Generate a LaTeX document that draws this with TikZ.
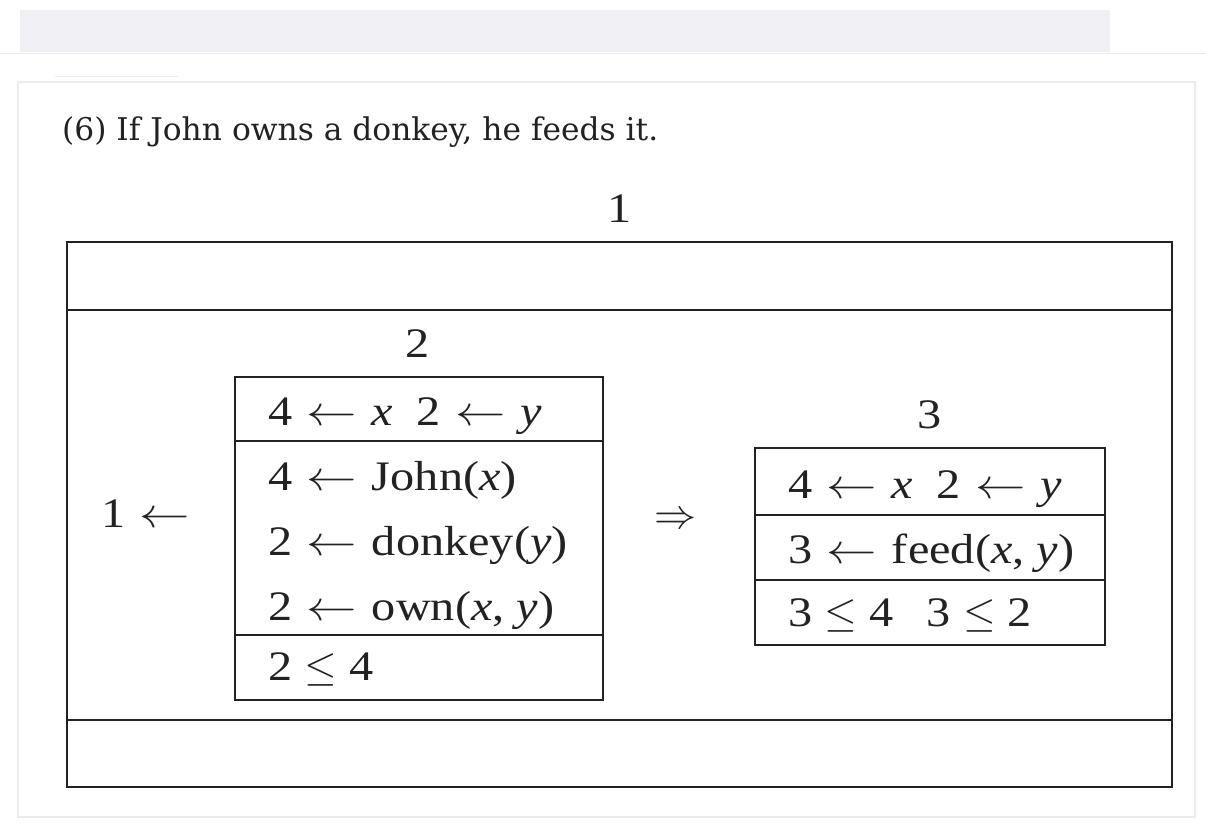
\RequirePackage{fix-cm}
\documentclass[tikz,border=0pt]{standalone}
\usepackage{graphicx}
\usepackage{fontspec}
\setmainfont{Liberation Serif}
\newfontfamily\titlefont{DejaVu Serif}
\newfontfamily\drsfont[FakeStretch=1.15]{Liberation Serif}
\usepackage{tikz}
\usetikzlibrary{positioning}

\definecolor{barfill}{HTML}{F0EFF4}
\definecolor{cardline}{HTML}{EBEBEB}
\definecolor{ink}{HTML}{222222}

% wide left arrow, as in the reference
\newcommand{\getsarrow}{\hspace{0.06em}\scalebox{1.2}[1]{\(\leftarrow\)}\hspace{0.06em}}

\begin{document}
\begin{tikzpicture}[x=1pt,y=-1pt,
  drs/.style={draw=ink,line width=2.2pt},
  cond/.style={anchor=base west,inner sep=0pt,text=ink,
    font=\drsfont\fontsize{42}{50}\selectfont},
  lbl/.style={anchor=base,inner sep=0pt,text=ink,
    font=\drsfont\fontsize{42}{50}\selectfont}]
  \useasboundingbox (0,0) rectangle (1206,834);
  % page bits round the figure
  \fill[barfill] (20,10) rectangle (1110,52);
  \draw[cardline] (0,53) -- (1206,53);
  \draw[cardline] (55,76) -- (178,76);
  \draw[cardline,line width=1.5pt] (18,82) rectangle (1195,817);
  % caption
  \node[anchor=base west,inner sep=0pt,text=ink,
    font=\titlefont\fontsize{31.3}{38}\selectfont] (title) at (62,141)
    {(6) If John owns a donkey, he feeds it.};
  % outer box 1
  \draw[drs] (67,242) rectangle (1172,787);
  \draw[drs] (67,310) -- (1172,310);
  \draw[drs] (67,720) -- (1172,720);
  \node[lbl] (L1) at (620,223) {1};
  \node[cond] (B1) at (101,527) {1 \getsarrow};
  % box 2
  \draw[drs] (235,377) rectangle (603,700);
  \draw[drs] (235,441) -- (603,441);
  \draw[drs] (235,635) -- (603,635);
  \node[lbl] (L2) at (418,357) {2};
  \node[cond] (U2) at (268,425) {4 \getsarrow{} \textit{x}\hspace{0.55em}2 \getsarrow{} \textit{y}};
  \node[cond] (C2a) at (268,490) {4 \getsarrow{} John(\textit{x})};
  \node[cond] (C2b) at (268,555) {2 \getsarrow{} donkey(\textit{y})};
  \node[cond] (C2c) at (268,620) {2 \getsarrow{} own(\textit{x}, \textit{y})};
  \node[cond] (O2) at (268,680) {2 \(\leq\) 4};
  % implication
  \node[lbl,font=\fontsize{42}{50}\selectfont] (IMP) at (675,528) {\(\Rightarrow\)};
  % box 3
  \draw[drs] (755,448) rectangle (1105,645);
  \draw[drs] (755,515) -- (1105,515);
  \draw[drs] (755,580) -- (1105,580);
  \node[lbl] (L3) at (930,428) {3};
  \node[cond] (U3) at (788,498) {4 \getsarrow{} \textit{x}\hspace{0.55em}2 \getsarrow{} \textit{y}};
  \node[cond] (C3) at (788,563) {3 \getsarrow{} feed(\textit{x}, \textit{y})};
  \node[cond] (O3) at (788,626) {3 \(\leq\) 4\hspace{0.8em}3 \(\leq\) 2};
\end{tikzpicture}
\end{document}
